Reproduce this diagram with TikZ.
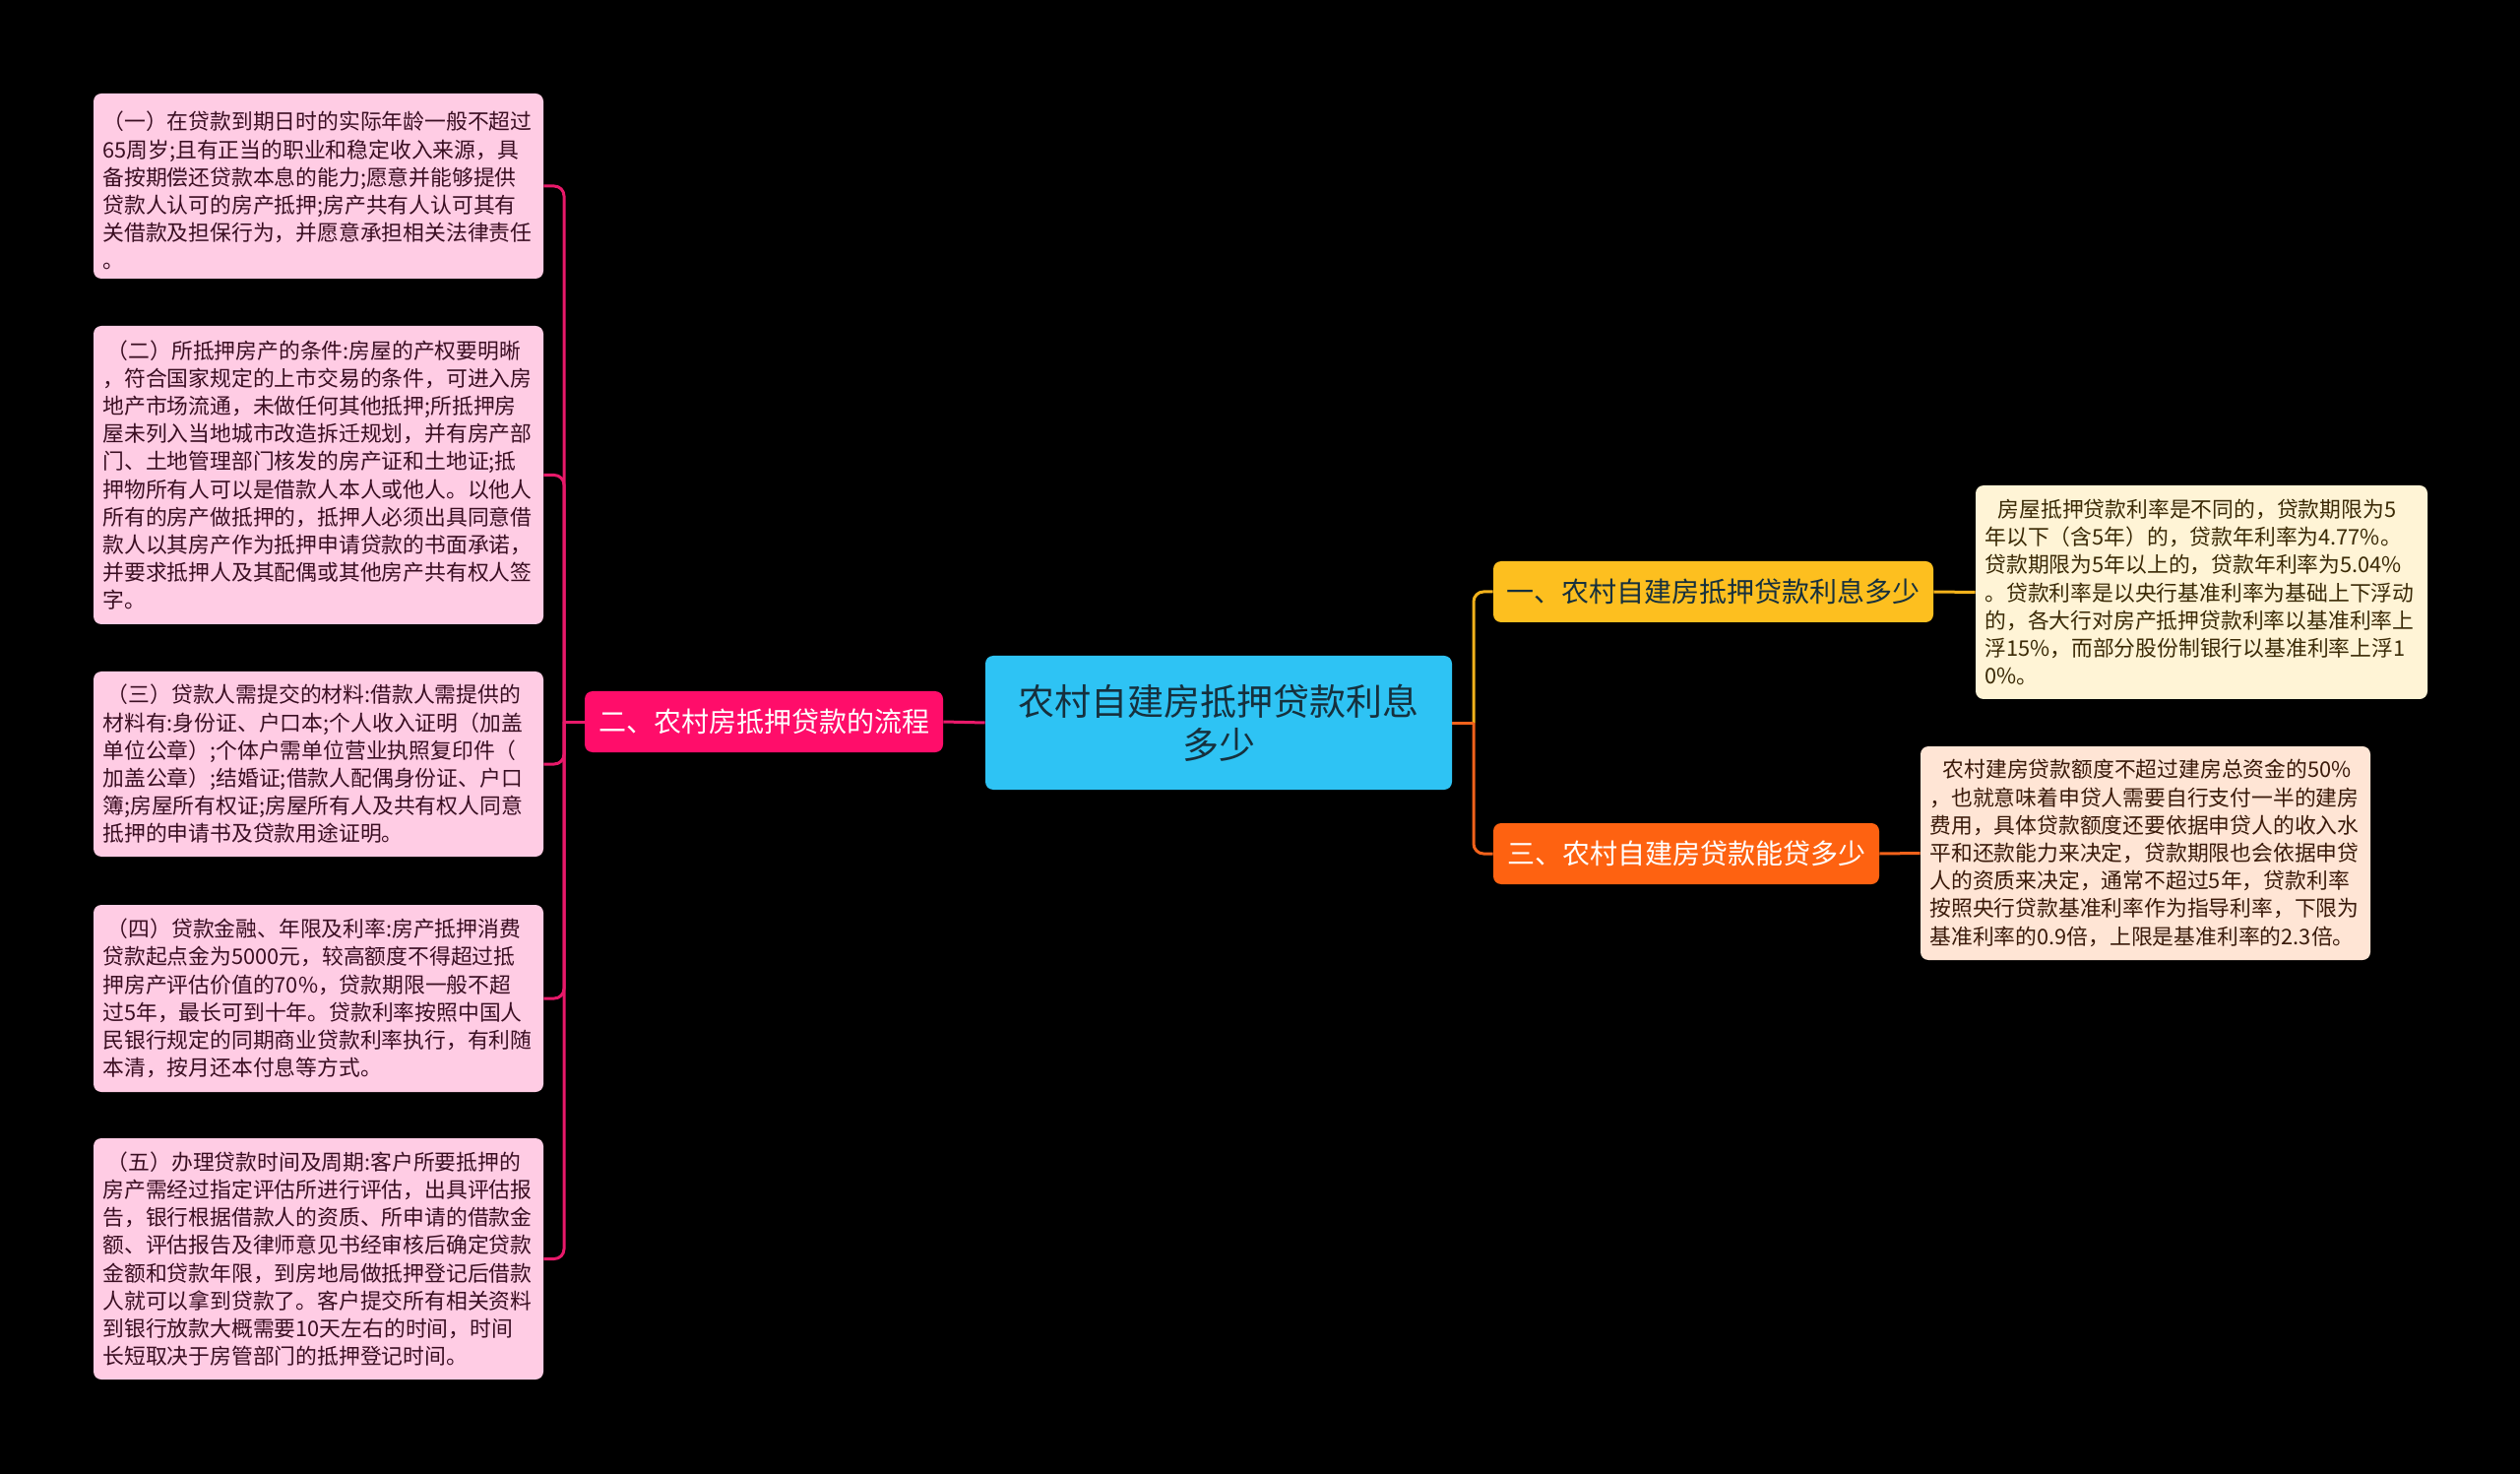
\documentclass[tikz,border=0pt]{standalone}
\usepackage{fontspec}
\setmainfont{Noto Sans CJK SC}
\usepackage{xcolor}
\definecolor{rootblue}{HTML}{2EC3F4}
\definecolor{roottext}{HTML}{16303D}
\definecolor{flowpink}{HTML}{FF0D6A}
\definecolor{ratesun}{HTML}{FDBF1F}
\definecolor{amountor}{HTML}{FE6211}
\definecolor{leafpink}{HTML}{FFCCE4}
\definecolor{leafcream}{HTML}{FFF4D6}
\definecolor{leafpeach}{HTML}{FFE5D5}
\definecolor{pinktext}{HTML}{3A0E22}
\definecolor{browntext}{HTML}{3B2A06}
\definecolor{rusttext}{HTML}{3A1A0A}
\definecolor{pinkline}{HTML}{E8196A}
\definecolor{sunline}{HTML}{F3B21B}
\definecolor{orline}{HTML}{F2621B}

\begin{document}
\begin{tikzpicture}[x=0.5pt,y=-0.5pt,
	root/.style={fill=rootblue, text=roottext, rounded corners=4pt, align=center, font=\fontsize{18.5}{22}\selectfont},
	branch/.style={rounded corners=4pt, align=center, minimum height=31pt, inner sep=0pt, font=\fontsize{14}{16}\selectfont},
	leaf/.style={rounded corners=4pt, align=left, inner xsep=4.75pt, inner ysep=0pt, font=\fontsize{10.9}{14.1}\selectfont},
	link/.style={line width=1.5pt, rounded corners=5pt}]
	%background
	\fill[black] (0,0) rectangle (2560,1497);
	\useasboundingbox (0,0) rectangle (2560,1497);
	%root
	\node[root, minimum width=237pt, minimum height=68pt] (c) at (1238,734) {农村自建房抵押贷款利息\\多少};
	%branches
	\node[branch, fill=flowpink, text=white, minimum width=182pt] (b2) at (776,733) {二、农村房抵押贷款的流程};
	\node[branch, fill=ratesun, text=roottext, minimum width=223.5pt] (b1) at (1740.5,601) {一、农村自建房抵押贷款利息多少};
	\node[branch, fill=amountor, text=white, minimum width=196pt] (b3) at (1713,867) {三、农村自建房贷款能贷多少};
	%left leaves
	\node[leaf, fill=leafpink, text=pinktext, text width=219pt, minimum height=94pt] (l1) at (323.5,189) {\hspace{0.2em}（一）在贷款到期日时的实际年龄一般不超过\\65周岁;且有正当的职业和稳定收入来源，具\\备按期偿还贷款本息的能力;愿意并能够提供\\贷款人认可的房产抵押;房产共有人认可其有\\关借款及担保行为，并愿意承担相关法律责任\\。};
	\node[leaf, fill=leafpink, text=pinktext, text width=219pt, minimum height=151.5pt] (l2) at (323.5,482.5) {\hspace{0.2em}（二）所抵押房产的条件:房屋的产权要明晰\\，符合国家规定的上市交易的条件，可进入房\\地产市场流通，未做任何其他抵押;所抵押房\\屋未列入当地城市改造拆迁规划，并有房产部\\门、土地管理部门核发的房产证和土地证;抵\\押物所有人可以是借款人本人或他人。以他人\\所有的房产做抵押的，抵押人必须出具同意借\\款人以其房产作为抵押申请贷款的书面承诺，\\并要求抵押人及其配偶或其他房产共有权人签\\字。};
	\node[leaf, fill=leafpink, text=pinktext, text width=219pt, minimum height=94pt] (l3) at (323.5,776) {\hspace{0.2em}（三）贷款人需提交的材料:借款人需提供的\\材料有:身份证、户口本;个人收入证明（加盖\\单位公章）;个体户需单位营业执照复印件（\\加盖公章）;结婚证;借款人配偶身份证、户口\\簿;房屋所有权证;房屋所有人及共有权人同意\\抵押的申请书及贷款用途证明。};
	\node[leaf, fill=leafpink, text=pinktext, text width=219pt, minimum height=95pt] (l4) at (323.5,1014) {\hspace{0.2em}（四）贷款金融、年限及利率:房产抵押消费\\贷款起点金为5000元，较高额度不得超过抵\\押房产评估价值的70\%，贷款期限一般不超\\过5年，最长可到十年。贷款利率按照中国人\\民银行规定的同期商业贷款利率执行，有利随\\本清，按月还本付息等方式。};
	\node[leaf, fill=leafpink, text=pinktext, text width=219pt, minimum height=122.5pt] (l5) at (323.5,1278.5) {\hspace{0.2em}（五）办理贷款时间及周期:客户所要抵押的\\房产需经过指定评估所进行评估，出具评估报\\告，银行根据借款人的资质、所申请的借款金\\额、评估报告及律师意见书经审核后确定贷款\\金额和贷款年限，到房地局做抵押登记后借款\\人就可以拿到贷款了。客户提交所有相关资料\\到银行放款大概需要10天左右的时间，时间\\长短取决于房管部门的抵押登记时间。};
	%right leaves
	\node[leaf, fill=leafcream, text=browntext, text width=220pt, minimum height=108.5pt] (r1) at (2236.5,601.5) {\hspace{0.6em}房屋抵押贷款利率是不同的，贷款期限为5\\年以下（含5年）的，贷款年利率为4.77\%。\\贷款期限为5年以上的，贷款年利率为5.04\%\\。贷款利率是以央行基准利率为基础上下浮动\\的，各大行对房产抵押贷款利率以基准利率上\\浮15\%，而部分股份制银行以基准利率上浮1\\0\%。};
	\node[leaf, fill=leafpeach, text=rusttext, text width=219pt, minimum height=108.5pt] (r3) at (2179.5,866.5) {\hspace{0.6em}农村建房贷款额度不超过建房总资金的50\%\\，也就意味着申贷人需要自行支付一半的建房\\费用，具体贷款额度还要依据申贷人的收入水\\平和还款能力来决定，贷款期限也会依据申贷\\人的资质来决定，通常不超过5年，贷款利率\\按照央行贷款基准利率作为指导利率，下限为\\基准利率的0.9倍，上限是基准利率的2.3倍。};
	%joints
	\coordinate (pj) at (573,733);
	\coordinate (pr) at (1497,734);
	%left links
	\draw[link, pinkline] (c.west) -- (b2.east);
	\draw[link, pinkline] (b2.west) -- (pj);
	\foreach \n in {l1,l2,l3,l4,l5}
		\draw[link, pinkline] (pj) |- (\n.east);
	%right links
	\draw[link, sunline] (pr) |- (b1.west);
	\draw[link, orline] (pr) |- (b3.west);
	\draw[link, orline] (c.east) -- (pr);
	\draw[link, sunline] (b1.east) -- (r1.west);
	\draw[link, orline] (b3.east) -- (r3.west);
\end{tikzpicture}
\end{document}
